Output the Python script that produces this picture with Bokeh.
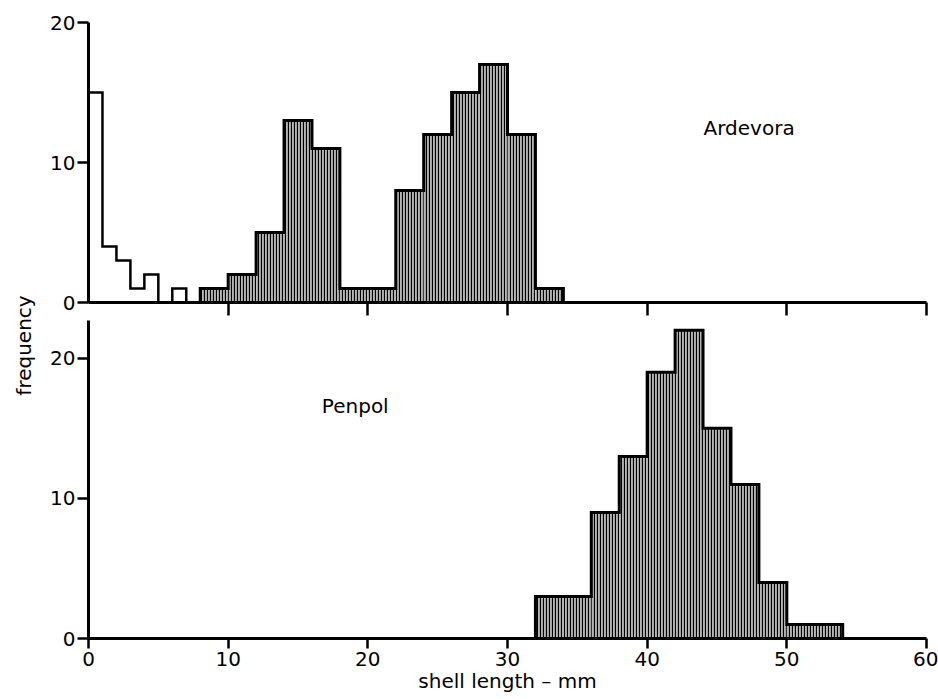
import math
from bokeh.plotting import figure
from bokeh.layouts import row, column
from bokeh.models import Range1d, Label, FixedTicker
from bokeh.embed import file_html
from bokeh.resources import INLINE

# ---------------- data ----------------
# Ardevora: small open (unshaded) 1-mm classes
ard_open_edges = [0, 1, 2, 3, 4, 5, 6, 7]
ard_open_counts = [15, 4, 3, 1, 2, 0, 1]
# Ardevora: shaded 2-mm classes
ard_edges = [8, 10, 12, 14, 16, 18, 20, 22, 24, 26, 28, 30, 32, 34]
ard_counts = [1, 2, 5, 13, 11, 1, 1, 8, 12, 15, 17, 12, 1]
# Penpol: shaded 2-mm classes
pen_edges = [32, 34, 36, 38, 40, 42, 44, 46, 48, 50, 52, 54]
pen_counts = [3, 3, 9, 13, 19, 22, 15, 11, 4, 1, 1]

x_ticks = [0, 10, 20, 30, 40, 50, 60]
top_x_ticks = [10, 20, 30, 40, 50, 60]
y_ticks = [0, 10, 20]

FONT = "DejaVu Sans"
FS = "20px"


def outline(edges, counts):
    """Step outline (no inner divisions) for runs of non-empty classes."""
    xs, ys = [], []
    cx, cy = None, None
    prev_r = None
    for i, c in enumerate(counts):
        l, r = edges[i], edges[i + 1]
        if c == 0:
            if cx is not None:
                cx.append(prev_r); cy.append(0)
                xs.append(cx); ys.append(cy)
                cx, cy = None, None
            continue
        if cx is None:
            cx, cy = [l, l, r], [0, c, c]
        else:
            cx += [l, r]; cy += [c, c]
        prev_r = r
    if cx is not None:
        cx.append(prev_r); cy.append(0)
        xs.append(cx); ys.append(cy)
    return xs, ys


def style(p):
    p.outline_line_color = None
    p.xgrid.visible = False
    p.ygrid.visible = False
    for ax in p.axis:
        ax.axis_line_width = 3
        ax.axis_line_color = "black"
        ax.major_tick_line_width = 2.5
        ax.major_tick_line_color = "black"
        ax.minor_tick_line_color = None
        ax.major_tick_in = 0
        ax.major_label_text_font = FONT
        ax.major_label_text_font_size = FS
        ax.major_label_text_color = "black"
        ax.axis_label_text_font = FONT
        ax.axis_label_text_font_size = FS
        ax.axis_label_text_font_style = "normal"
        ax.axis_label_text_color = "black"


def shaded(p, edges, counts):
    p.quad(left=edges[:-1], right=edges[1:], bottom=0, top=counts,
           fill_color="#b4b4b4", line_color=None,
           hatch_pattern="vertical_line", hatch_scale=3,
           hatch_weight=1.2, hatch_color="black")
    xs, ys = outline(edges, counts)
    p.multi_line(xs, ys, line_color="black", line_width=3, line_join="miter")


# ---------------- left label strip ----------------
lab = figure(width=40, height=699, x_range=Range1d(0, 1), y_range=Range1d(0, 1),
             toolbar_location=None, output_backend="svg",
             min_border_left=0, min_border_right=0, min_border_top=0, min_border_bottom=0)
lab.axis.visible = False
lab.grid.visible = False
lab.outline_line_color = None
lab.add_layout(Label(x=23, y=354, x_units="screen", y_units="screen",
                     text="frequency", angle=math.pi / 2,
                     text_align="center", text_baseline="middle",
                     text_font=FONT, text_font_size=FS, text_color="black"))

# ---------------- top panel: Ardevora ----------------
top = figure(width=898, height=320, x_range=Range1d(0, 60), y_range=Range1d(0, 20),
             toolbar_location=None, output_backend="svg",
             min_border_left=48, min_border_right=12, min_border_top=22, min_border_bottom=18)
top.quad(left=ard_open_edges[:-1], right=ard_open_edges[1:], bottom=0, top=ard_open_counts,
         fill_color="white", line_color=None)
xs, ys = outline(ard_open_edges, ard_open_counts)
top.multi_line(xs, ys, line_color="black", line_width=2.5, line_join="miter")
shaded(top, ard_edges, ard_counts)
style(top)
top.xaxis.ticker = FixedTicker(ticks=top_x_ticks)
top.xaxis.major_tick_out = 13
top.xaxis.major_label_overrides = {t: "" for t in top_x_ticks}
top.xaxis.major_label_standoff = 0
top.yaxis.ticker = FixedTicker(ticks=y_ticks)
top.yaxis.major_tick_out = 11
top.yaxis.major_label_standoff = 2
top.add_layout(Label(x=47.3, y=12.5, text="Ardevora", text_align="center",
                     text_baseline="alphabetic", text_font=FONT,
                     text_font_size=FS, text_color="black"))

# ---------------- bottom panel: Penpol ----------------
bot = figure(width=898, height=379, x_range=Range1d(0, 60), y_range=Range1d(0, 22.7),
             toolbar_location=None, output_backend="svg",
             min_border_left=48, min_border_right=12, min_border_top=0, min_border_bottom=61)
shaded(bot, pen_edges, pen_counts)
style(bot)
bot.xaxis.ticker = FixedTicker(ticks=x_ticks)
bot.xaxis.major_tick_out = 10
bot.xaxis.major_label_standoff = 3
bot.xaxis.axis_label = "shell length – mm"
bot.xaxis.axis_label_standoff = 0
bot.yaxis.ticker = FixedTicker(ticks=y_ticks)
bot.yaxis.major_tick_out = 11
bot.yaxis.major_label_standoff = 2
bot.add_layout(Label(x=19.1, y=16.6, text="Penpol", text_align="center",
                     text_baseline="alphabetic", text_font=FONT,
                     text_font_size=FS, text_color="black"))

layout = row(lab, column(top, bot, spacing=0), spacing=0)
open("out.html", "w").write(file_html(layout, INLINE))
